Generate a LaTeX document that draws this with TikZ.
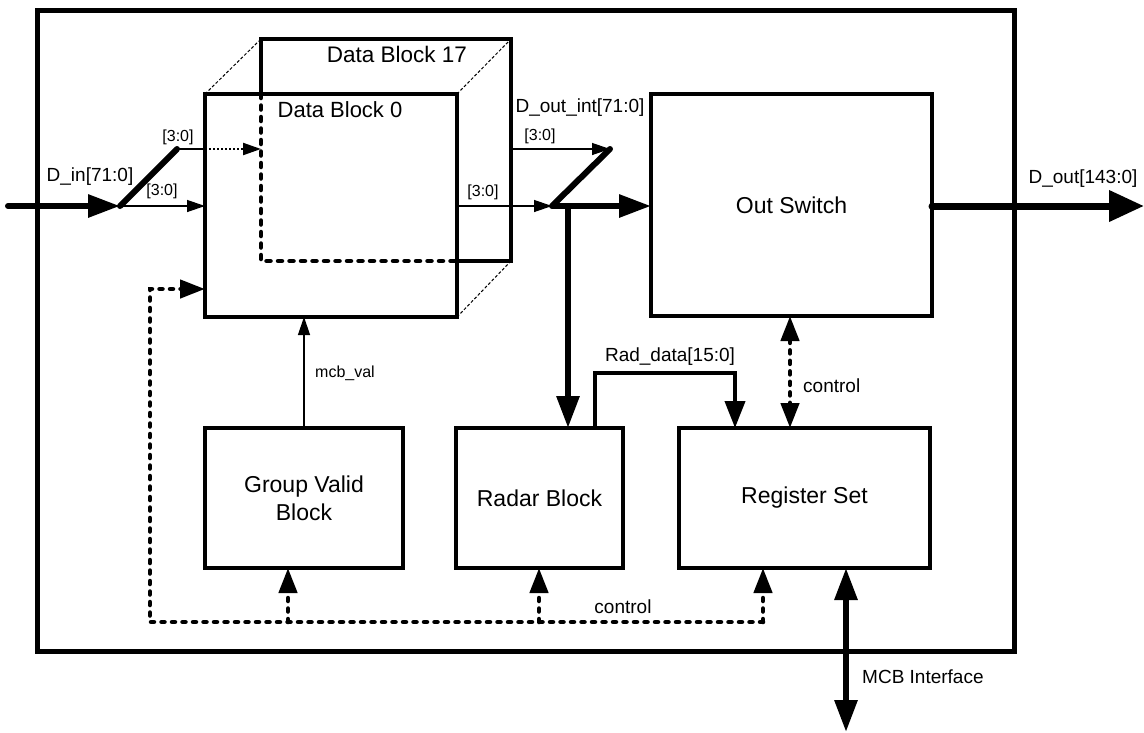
\documentclass[tikz,border=0pt]{standalone}
\usepackage{fontspec}
\setmainfont{Liberation Sans}
\usetikzlibrary{arrows.meta}
\tikzset{
  box/.style={draw, line width=4pt, outer sep=0pt, inner sep=0pt, anchor=north west},
  big/.style={font=\fontsize{23}{28}\selectfont, inner sep=0pt},
  mid/.style={font=\fontsize{19}{22}\selectfont, inner sep=0pt},
  small/.style={font=\fontsize{16}{19}\selectfont, inner sep=0pt},
  bus/.style={line width=6pt},
  wire/.style={line width=1.3pt},
  ctrl/.style={line width=4.5pt, line cap=round, dash pattern=on 3pt off 7.5pt},
  hidden/.style={line width=4.5pt, line cap=round, dash pattern=on 4pt off 7.5pt},
  finedot/.style={line width=2.2pt, dash pattern=on 2pt off 2pt},
  edge3d/.style={line width=1pt, dash pattern=on 3pt off 2pt},
  bigtip/.tip={Triangle[length=32pt,width=22pt]},
  midtip/.tip={Triangle[length=27pt,width=20pt]},
  ctltip/.tip={Triangle[length=25pt,width=18pt]},
  smltip/.tip={Triangle[length=18pt,width=12pt]},
}
\begin{document}
\begin{tikzpicture}[x=1pt,y=-1pt]
\useasboundingbox (0,0) rectangle (1144,732);
\fill[white] (0,0) rectangle (1144,732);

% outer module frame
\node[box, line width=5pt, minimum width=977pt, minimum height=641pt] (frame) at (37,10) {};

% stacked data blocks
\node[box, draw=none, minimum width=250pt, minimum height=222pt] (db17) at (261,39) {};
\node[box, minimum width=252pt, minimum height=223pt] (db0) at (205,94) {};
\draw[line width=4pt] (db17.west |- db0.north) -- (db17.north west) -- (db17.north east)
  -- (db17.south east) -- (db0.east |- db17.south);
\draw[hidden] (db17.west |- db0.north) -- (db17.south west) -- (db0.east |- db17.south);
\draw[edge3d] (db0.north west) -- (db17.north west);
\draw[edge3d] (db0.north east) -- (db17.north east);
\draw[edge3d] (db0.south east) -- (db17.south east);
\node[big, font=\fontsize{22.5}{27}\selectfont] (t17) at (397,54) {Data Block 17};
\node[big, font=\fontsize{22}{27}\selectfont] (t0) at (340,110) {Data Block 0};

% other blocks
\node[box, big, minimum width=281pt, minimum height=222pt] (out) at (651,94) {Out Switch};
\node[box, big, align=center, minimum width=198pt, minimum height=140pt] (gvb) at (205,428) {Group Valid\\Block};
\node[box, big, minimum width=167pt, minimum height=140pt] (radar) at (456,428) {Radar Block};
\node[box, big, minimum width=251pt, minimum height=140pt] (reg) at (679,428) {Register Set};

% junction points
\coordinate (din) at (8,206);
\coordinate (swL) at (120,206);
\coordinate (swLt) at (177,149);
\coordinate (swR) at (552,206);
\coordinate (swRt) at (610,149);
\coordinate (tap) at (568,206);
\coordinate (dout) at (1144,206);
\coordinate (radUp) at (595,373);
\coordinate (radOver) at (735,373);
\coordinate (ctlx) at (790,0);
\coordinate (cbL) at (150,622);
\coordinate (cbTop) at (150,289);
\coordinate (cbR) at (763,622);
\coordinate (cbG) at (288,622);
\coordinate (cbA) at (539,622);
\coordinate (mcb) at (846,732);

% input side
\draw[bus, line cap=round, -bigtip] (din) -- (swL);
\draw[bus, line cap=round] (swL) -- (swLt);
\draw[wire, -smltip] (swL) -- (db0.west |- swL);
\draw[wire] (swLt) -- (db0.west |- swLt);
\draw[finedot, -smltip] (db0.west |- swLt) -- (db17.west |- swLt);
\node[mid] (ldin) at (90,177) {D\_in[71:0]};
\node[small] (lin1) at (178,137) {[3:0]};
\node[small] (lin2) at (162,191) {[3:0]};

% output side of the data blocks
\draw[wire, -smltip] (db0.east |- swR) -- (swR);
\draw[wire, -smltip] (db17.east |- swRt) -- (swRt);
\draw[bus, line cap=round] (swR) -- (swRt);
\draw[bus, -bigtip] (swR) -- (out.west |- swR);
\draw[bus, -bigtip] (tap) -- (tap |- radar.north);
\node[mid] (ldint) at (580,108) {D\_out\_int[71:0]};
\node[small] (lout1) at (540,136) {[3:0]};
\node[small] (lout2) at (483,192) {[3:0]};

% radar data to the register set
\draw[line width=4pt, -midtip] (radUp |- radar.north) -- (radUp) -- (radOver) -- (radOver |- reg.north);
\node[mid] (lrad) at (670,357) {Rad\_data[15:0]};

% switch control
\draw[ctrl, ctltip-ctltip] (ctlx |- out.south) -- (ctlx |- reg.north);
\node[mid, anchor=west] (lctl1) at (803,386) {control};

% group valid to data block
\draw[wire, -smltip] (gvb.north) -- (gvb.north |- db0.south);
\node[small, anchor=west] (lmcb) at (315,373) {mcb\_val};

% control bus
\draw[ctrl, -ctltip] (cbR) -- (cbR |- reg.south);
\draw[ctrl, -ctltip] (cbR) -- (cbL) -- (cbTop) -- (db0.west |- cbTop);
\draw[ctrl, -ctltip] (cbG) -- (cbG |- gvb.south);
\draw[ctrl, -ctltip] (cbA) -- (cbA |- radar.south);
\node[mid] (lctl2) at (623,607) {control};

% MCB interface
\draw[bus, bigtip-bigtip] (mcb |- reg.south) -- (mcb);
\node[mid, anchor=west] (lmcbi) at (862,677) {MCB Interface};

% data output
\draw[line width=7pt, line cap=round, -{Triangle[length=35pt,width=30pt]}] (out.east |- swR) -- (dout);
\node[mid] (ldout) at (1083,179) {D\_out[143:0]};
\end{tikzpicture}
\end{document}
